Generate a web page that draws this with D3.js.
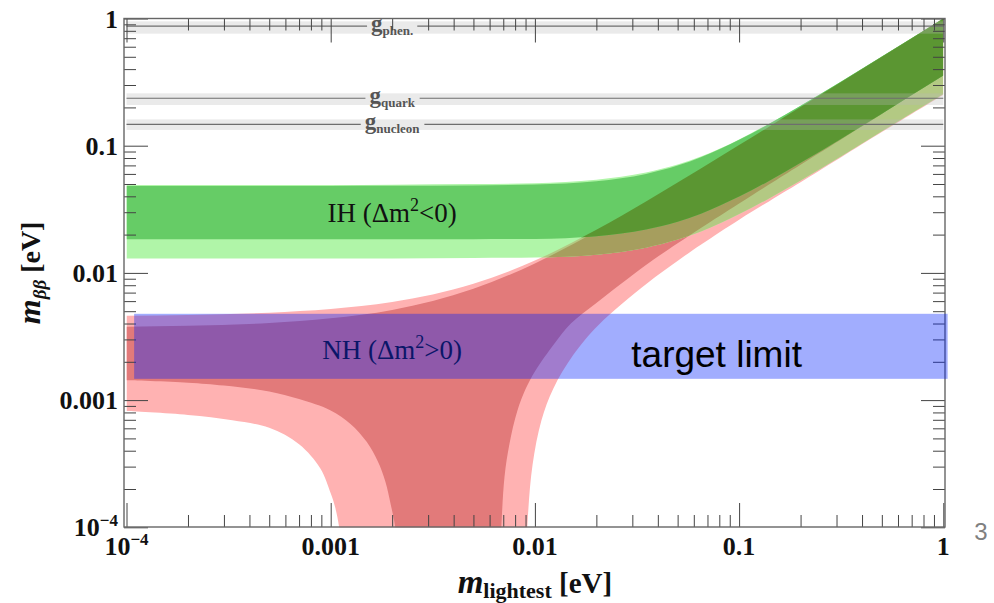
<!DOCTYPE html>
<html>
<head>
<meta charset="utf-8">
<script src="https://cdn.jsdelivr.net/npm/d3@7"></script>
<style>
  html, body { margin: 0; padding: 0; background: #fff; }
  svg { display: block; }
</style>
</head>
<body>
<svg id="chart" width="994" height="603"></svg>
<script>
// ---- effective Majorana mass bands, m_lightest in eV ----
const mGrid = [1e-4, 2e-4, 5e-4, 1e-3, 2e-3, 5e-3, 0.01, 0.02, 0.035, 0.05, 0.065, 0.1, 0.14, 0.2, 0.5, 1];

// inverted hierarchy
const ihOuterTop    = [0.0491, 0.0491, 0.0491, 0.0492, 0.0494, 0.0499, 0.0507, 0.0540, 0.0615, 0.0710, 0.0822, 0.1120, 0.1490, 0.2065, 0.5025, 1.002];
const ihInnerTop    = [0.0482, 0.0482, 0.0482, 0.0483, 0.0484, 0.0487, 0.0496, 0.0526, 0.0600, 0.0699, 0.0813, 0.1113, 0.1483, 0.2059, 0.5024, 1.001];
const ihInnerBottom = [0.0184, 0.0184, 0.0184, 0.0184, 0.0184, 0.0184, 0.0185, 0.0194, 0.0219, 0.0252, 0.0292, 0.0398, 0.0529, 0.0733, 0.1787, 0.356];
const ihOuterBottom = [0.0130, 0.0130, 0.0130, 0.0130, 0.0130, 0.0131, 0.0132, 0.0139, 0.0158, 0.0183, 0.0212, 0.0290, 0.0385, 0.0532, 0.1300, 0.255];

// normal hierarchy, upper edges
const nhOuterTop = [0.0046, 0.00467, 0.00487, 0.0052, 0.0059, 0.0082, 0.0125, 0.0218, 0.0364, 0.0513, 0.0662, 0.1012, 0.1412, 0.2012, 0.501, 1.002];
const nhInnerTop = [0.00377, 0.00384, 0.00404, 0.0044, 0.00512, 0.0075, 0.01187, 0.02128, 0.03589, 0.05068, 0.06555, 0.10037, 0.1403, 0.2002, 0.5001, 1.0];

// normal hierarchy, lower edges (cancellation region dips below the axis)
const nhOuterBottomM = [1e-4, 2e-4, 3.3e-4, 5e-4, 7e-4, 8.9e-4, 1.0e-3, 1.05e-3, 1.1e-3, 1.15e-3, 1.18e-3, 1.2e-3,
                        8.8e-3, 9.02e-3, 9.23e-3, 9.74e-3, 0.01076, 0.0123, 0.0154, 0.0205, 0.0355, 0.0505, 0.0655, 0.1, 0.14, 0.2, 0.5, 1];
const nhOuterBottomV = [0.00082, 0.000765, 0.000695, 0.000605, 0.00045, 0.00029, 0.000185, 0.000145, 0.0001, 0.00005, 0.00001, 0.000001,
                        0.000001, 0.000041, 0.000118, 0.00031, 0.00069, 0.00123, 0.00226, 0.0039, 0.0083, 0.0126, 0.0168, 0.0262, 0.0365, 0.0515, 0.128, 0.252];
const nhInnerBottomM = [1e-4, 2e-4, 3e-4, 5e-4, 7e-4, 1e-3, 1.25e-3, 1.5e-3, 1.7e-3, 1.85e-3, 1.97e-3, 2.07e-3, 2.15e-3, 2.2e-3, 2.25e-3,
                        6.5e-3, 6.6e-3, 6.75e-3, 6.85e-3, 7.1e-3, 7.5e-3, 8.2e-3, 9.0e-3, 0.01, 0.0125, 0.015, 0.02, 0.035, 0.05, 0.065, 0.1, 0.14, 0.2, 0.5, 1];
const nhInnerBottomV = [0.00143, 0.00137, 0.0013, 0.00117, 0.00102, 0.00083, 0.00065, 0.00047, 0.00033, 0.00023, 0.00015, 0.0001, 0.00005, 0.00001, 0.000001,
                        0.000001, 0.00001, 0.00005, 0.0001, 0.00025, 0.00045, 0.00082, 0.00122, 0.00168, 0.0028, 0.0040, 0.0058, 0.01156, 0.0171, 0.02257, 0.0352, 0.0495, 0.0709, 0.1778, 0.3556];

// coupling reference levels
const couplingNames   = ["phen.", "quark", "nucleon"];
const couplingCentral = [0.87, 0.236, 0.147];
const couplingLow     = [0.76, 0.209, 0.133];
const couplingHigh    = [0.95, 0.258, 0.161];

// sensitivity goal
const targetLimitRange = [0.00147, 0.00477];
const targetLimitSpan  = [1.09e-4, 1.05];

// axes
const majorTicks = [1e-4, 1e-3, 1e-2, 0.1, 1];
const tickLabels = [["10", "\u22124"], ["0.001"], ["0.01"], ["0.1"], ["1"]];

// ---- drawing ----
const svg = d3.select("#chart");
const xS = d3.scaleLog().domain([1e-4, 1]).range([126.5, 943.3]);
const yS = d3.scaleLog().domain([1e-4, 1]).range([527.3, 18.5]);
const frame = { x0: 124, x1: 945, y0: 18.5, y1: 527 };
const serif = "'Liberation Serif', 'Times New Roman', serif";
const sans = "'Liberation Sans', Arial, sans-serif";

svg.append("rect").attr("width", 994).attr("height", 603).attr("fill", "#fff");

const zip = (xs, ys) => xs.map((x, i) => [x, ys[i]]);
const edgeSmooth = d3.line().x(d => xS(d[0])).y(d => yS(d[1])).curve(d3.curveMonotoneX);
const edgeSteep  = d3.line().x(d => xS(d[0])).y(d => yS(d[1])).curve(d3.curveCatmullRom.alpha(0.5));
function bandPath(top, bottom, bottomGen) {
  const a = edgeSmooth(top);
  const b = (bottomGen || edgeSmooth)(bottom.slice().reverse());
  return a + "L" + b.slice(1) + "Z";
}

const ihOuter = bandPath(zip(mGrid, ihOuterTop), zip(mGrid, ihOuterBottom));
const ihInner = bandPath(zip(mGrid, ihInnerTop), zip(mGrid, ihInnerBottom));
const nhOuter = bandPath(zip(mGrid, nhOuterTop), zip(nhOuterBottomM, nhOuterBottomV), edgeSteep);
const nhInner = bandPath(zip(mGrid, nhInnerTop), zip(nhInnerBottomM, nhInnerBottomV), edgeSteep);

const defs = svg.append("defs");
defs.append("clipPath").attr("id", "plotClip").append("rect")
  .attr("x", xS(1e-4)).attr("y", yS(1))
  .attr("width", xS(1) - xS(1e-4)).attr("height", yS(1e-4) - yS(1));
defs.append("clipPath").attr("id", "nhOuterClip").append("path").attr("d", nhOuter);
defs.append("clipPath").attr("id", "nhInnerClip").append("path").attr("d", nhInner);

const bands = svg.append("g").attr("clip-path", "url(#plotClip)");
bands.append("path").attr("d", nhOuter).attr("fill", "#ffb2b2");
bands.append("path").attr("d", nhInner).attr("fill", "#e27a7a");
bands.append("path").attr("d", ihOuter).attr("fill", "#b0f5a8");
bands.append("path").attr("d", ihOuter).attr("fill", "#b3c983").attr("clip-path", "url(#nhOuterClip)");
bands.append("path").attr("d", ihOuter).attr("fill", "#a69e5e").attr("clip-path", "url(#nhInnerClip)");
bands.append("path").attr("d", ihInner).attr("fill", "#66cc66");
bands.append("path").attr("d", ihInner).attr("fill", "#5b9632").attr("clip-path", "url(#nhOuterClip)");

// coupling levels: shaded range, central line, label
const gC = svg.append("g");
couplingNames.forEach((name, i) => {
  gC.append("rect")
    .attr("x", xS(1e-4)).attr("width", xS(1) - xS(1e-4))
    .attr("y", yS(couplingHigh[i])).attr("height", yS(couplingLow[i]) - yS(couplingHigh[i]))
    .attr("fill", "#bbbbbb").attr("opacity", 0.3);
  const yc = yS(couplingCentral[i]);
  const t = gC.append("text")
    .attr("x", xS(0.002)).attr("y", yc + 5)
    .attr("text-anchor", "middle")
    .attr("font-family", serif).attr("font-weight", "bold").attr("fill", "#555");
  t.append("tspan").attr("font-size", 23).text("g");
  t.append("tspan").attr("font-size", 13).attr("dy", 4).text(name);
  const bb = t.node().getBBox();
  gC.append("line").attr("x1", xS(1e-4)).attr("x2", bb.x - 4).attr("y1", yc).attr("y2", yc)
    .attr("stroke", "#6e6e6e").attr("stroke-width", 1.2);
  gC.append("line").attr("x1", bb.x + bb.width + 4).attr("x2", xS(1)).attr("y1", yc).attr("y2", yc)
    .attr("stroke", "#6e6e6e").attr("stroke-width", 1.2);
});

// frame ticks (inward, mirrored on all four sides)
const minorX = xS.ticks().filter(v => !majorTicks.some(m => Math.abs(m - v) / m < 1e-6));
const minorY = yS.ticks().filter(v => !majorTicks.some(m => Math.abs(m - v) / m < 1e-6));
function tickLayer(axis, transform) {
  const g = svg.append("g").attr("transform", transform).call(axis);
  g.select(".domain").remove();
  g.selectAll("text").remove();
  g.selectAll("line").attr("stroke", "#444").attr("stroke-width", 1);
  return g;
}
[[majorTicks, 24], [minorX, 12]].forEach(([vals, len]) => {
  tickLayer(d3.axisBottom(xS).tickValues(vals).tickSize(-len), `translate(0,${frame.y1})`);
  tickLayer(d3.axisTop(xS).tickValues(vals).tickSize(-len), `translate(0,${frame.y0})`);
});
[[majorTicks, 24], [minorY, 12]].forEach(([vals, len]) => {
  tickLayer(d3.axisLeft(yS).tickValues(vals).tickSize(-len), `translate(${frame.x0},0)`);
  tickLayer(d3.axisRight(yS).tickValues(vals).tickSize(-len), `translate(${frame.x1},0)`);
});
svg.append("rect")
  .attr("x", frame.x0).attr("y", frame.y0)
  .attr("width", frame.x1 - frame.x0).attr("height", frame.y1 - frame.y0)
  .attr("fill", "none").attr("stroke", "#666").attr("stroke-width", 1.4);

// tick labels
function tickText(parent, parts) {
  parent.append("tspan").text(parts[0]);
  if (parts[1]) parent.append("tspan").attr("font-size", 17).attr("dy", -10).text(parts[1]);
}
const labelsG = svg.append("g").attr("font-family", serif).attr("font-weight", "bold")
  .attr("font-size", 26).attr("fill", "#111");
majorTicks.forEach((v, i) => {
  const tx = labelsG.append("text").attr("x", xS(v)).attr("y", 555).attr("text-anchor", "middle");
  tickText(tx, tickLabels[i]);
  const ty = labelsG.append("text").attr("x", 118).attr("y", yS(v) + 9).attr("text-anchor", "end");
  tickText(ty, tickLabels[i]);
});

// axis titles
const xTitle = svg.append("text").attr("x", (xS(1e-4) + xS(1)) / 2).attr("y", 593)
  .attr("text-anchor", "middle").attr("font-family", serif).attr("font-weight", "bold").attr("fill", "#111");
xTitle.append("tspan").attr("font-size", 33).attr("font-style", "italic").text("m");
xTitle.append("tspan").attr("font-size", 22).attr("dy", 5).text("lightest");
xTitle.append("tspan").attr("font-size", 29).attr("dy", -5).text(" [eV]");

const yMid = (yS(1e-4) + yS(1)) / 2;
const yTitle = svg.append("text").attr("transform", `translate(40,${yMid}) rotate(-90)`)
  .attr("text-anchor", "middle").attr("font-family", serif).attr("font-weight", "bold").attr("fill", "#111");
yTitle.append("tspan").attr("font-size", 32).attr("font-style", "italic").text("m");
yTitle.append("tspan").attr("font-size", 19).attr("font-style", "italic").attr("dy", 6).text("\u03b2\u03b2");
yTitle.append("tspan").attr("font-size", 28).attr("dy", -6).text(" [eV]");

// hierarchy labels
function hierLabel(x, y) {
  return svg.append("text").attr("x", xS(x)).attr("y", yS(y)).attr("text-anchor", "middle")
    .attr("font-family", serif).attr("font-size", 27).attr("fill", "#111");
}
const ihText = hierLabel(0.002, 0.025);
ihText.append("tspan").text("IH (\u0394m");
ihText.append("tspan").attr("font-size", 18).attr("dy", -11).text("2");
ihText.append("tspan").attr("dy", 11).text("<0)");
const nhText = hierLabel(0.002, 0.0021);
nhText.append("tspan").text("NH (\u0394m");
nhText.append("tspan").attr("font-size", 18).attr("dy", -11).text("2");
nhText.append("tspan").attr("dy", 11).text(">0)");

// target sensitivity band
svg.append("rect")
  .attr("x", xS(targetLimitSpan[0])).attr("width", xS(targetLimitSpan[1]) - xS(targetLimitSpan[0]))
  .attr("y", yS(targetLimitRange[1])).attr("height", yS(targetLimitRange[0]) - yS(targetLimitRange[1]))
  .attr("fill", "rgb(0,33,252)").attr("opacity", 0.37);
svg.append("text").attr("x", xS(0.0776)).attr("y", yS(0.00183)).attr("text-anchor", "middle")
  .attr("font-family", sans).attr("font-size", 37).attr("fill", "#000").text("target limit");

// page number
svg.append("text").attr("x", 981).attr("y", 540).attr("text-anchor", "middle")
  .attr("font-family", sans).attr("font-size", 24).attr("fill", "#808080").text("3");
</script>
</body>
</html>
